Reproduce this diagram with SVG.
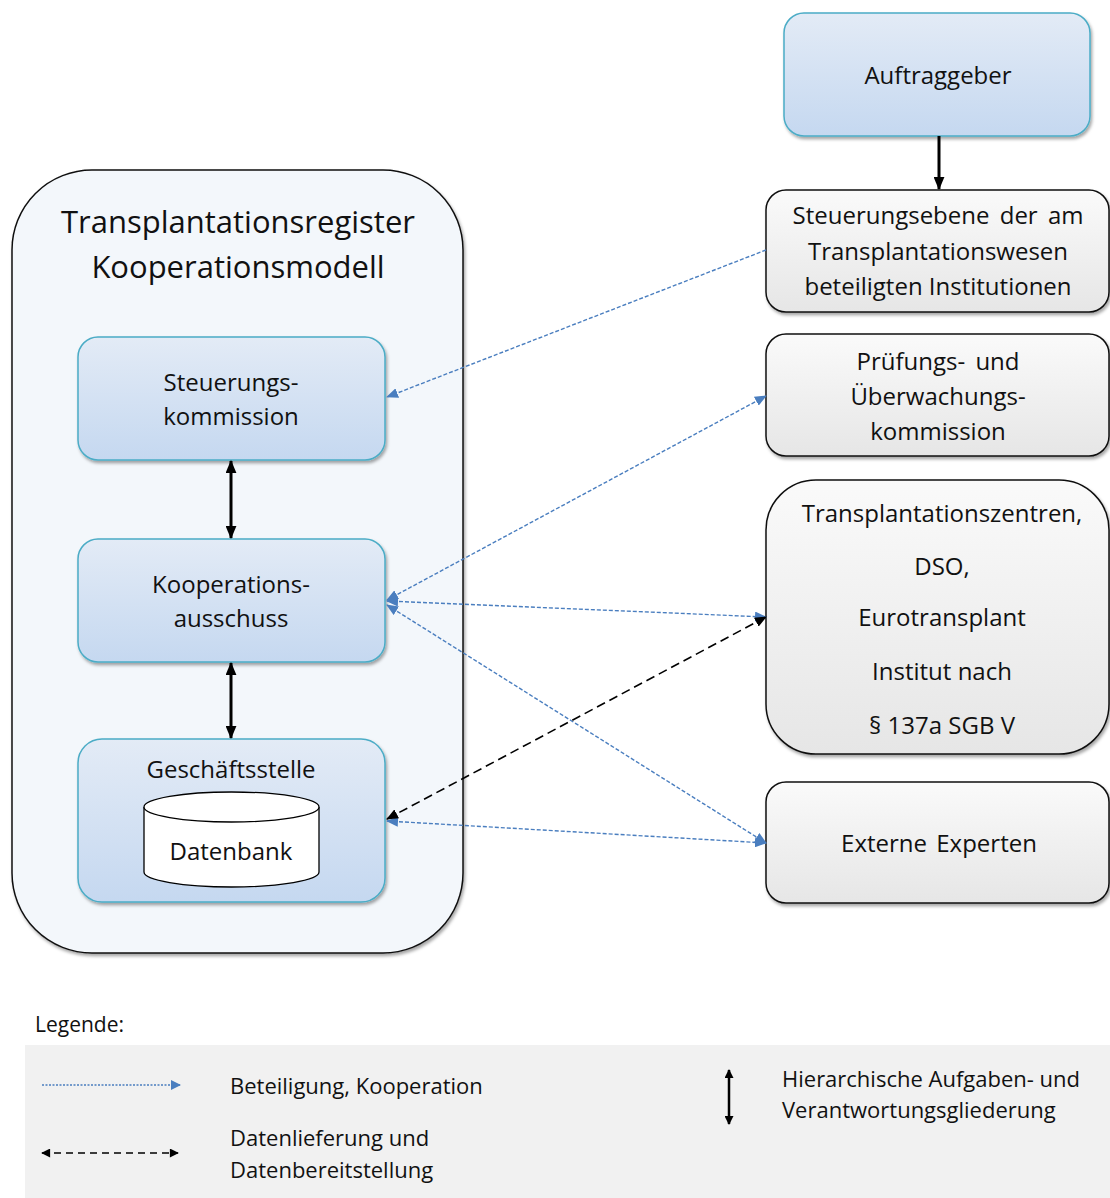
<svg xmlns="http://www.w3.org/2000/svg" width="1110" height="1198" viewBox="0 0 1110 1198">
  <style>
    text { font-family: "Open Sans", "Noto Sans", "DejaVu Sans", sans-serif; fill: #111; text-anchor: middle; }
    .t22 { font-size: 24px; }
    .title { font-size: 31px; }
    .leg { font-size: 22px; text-anchor: start; }
    .blue-box { fill: url(#gBlue); stroke: #4bacc6; stroke-width: 1.5; filter: url(#shadow); }
    .grey-box { fill: url(#gGrey); stroke: #111; stroke-width: 1.5; filter: url(#shadow); }
    .coop { fill: none; stroke: #4a7ebf; stroke-width: 1.4; stroke-dasharray: 4 2; }
    .data { fill: none; stroke: #000; stroke-width: 1.6; stroke-dasharray: 9 5; }
    .hier { fill: none; stroke: #000; stroke-width: 3; }
  </style>
  <defs>
    <linearGradient id="gBlue" x1="0" y1="0" x2="0" y2="1">
      <stop offset="0" stop-color="#e3ebf6"/>
      <stop offset="1" stop-color="#c5d8f0"/>
    </linearGradient>
    <linearGradient id="gGrey" x1="0" y1="0" x2="0" y2="1">
      <stop offset="0" stop-color="#fafafa"/>
      <stop offset="1" stop-color="#e6e6e6"/>
    </linearGradient>
    <filter id="shadow" x="-10%" y="-10%" width="125%" height="125%">
      <feDropShadow dx="1.5" dy="2.5" stdDeviation="1.8" flood-color="#000" flood-opacity="0.35"/>
    </filter>
    <marker id="aBlue" viewBox="0 0 12 10" refX="11" refY="5" markerWidth="12" markerHeight="10" markerUnits="userSpaceOnUse" orient="auto-start-reverse">
      <path d="M0,0 L12,5 L0,10 Z" fill="#4a7ebf"/>
    </marker>
    <marker id="aBlack" viewBox="0 0 12 10" refX="11" refY="5" markerWidth="12" markerHeight="10" markerUnits="userSpaceOnUse" orient="auto-start-reverse">
      <path d="M0,0 L12,5 L0,10 Z" fill="#000"/>
    </marker>
    <marker id="aHier" viewBox="0 0 12 10" refX="11" refY="5" markerWidth="13" markerHeight="11" markerUnits="userSpaceOnUse" orient="auto-start-reverse">
      <path d="M0,0 L12,5 L0,10 Z" fill="#000"/>
    </marker>
    <marker id="aSmallBlue" viewBox="0 0 10 10" refX="9" refY="5" markerWidth="10" markerHeight="10" markerUnits="userSpaceOnUse" orient="auto-start-reverse">
      <path d="M0,0 L10,5 L0,10 Z" fill="#4a7ebf"/>
    </marker>
    <marker id="aSmallBlack" viewBox="0 0 10 10" refX="9" refY="5" markerWidth="10" markerHeight="9" markerUnits="userSpaceOnUse" orient="auto-start-reverse">
      <path d="M0,0 L10,5 L0,10 Z" fill="#000"/>
    </marker>
  </defs>

  <rect width="1110" height="1198" fill="#fff"/>

  <!-- Register container -->
  <g id="register">
    <rect x="12" y="170" width="451" height="783" rx="80" ry="80" fill="#f3f7fb" stroke="#111" stroke-width="1.5" filter="url(#shadow)"/>
    <text class="title" x="238" y="233">Transplantationsregister</text>
    <text class="title" x="238" y="278">Kooperationsmodell</text>
  </g>

  <g id="steuerungskommission">
    <rect class="blue-box" x="78" y="337" width="307" height="123" rx="20"/>
    <text class="t22" x="231" y="391">Steuerungs-</text>
    <text class="t22" x="231" y="425">kommission</text>
  </g>

  <g id="kooperationsausschuss">
    <rect class="blue-box" x="78" y="539" width="307" height="123" rx="20"/>
    <text class="t22" x="231" y="593">Kooperations-</text>
    <text class="t22" x="231" y="627">ausschuss</text>
  </g>

  <g id="geschaeftsstelle">
    <rect class="blue-box" x="78" y="739" width="307" height="163" rx="24"/>
    <text class="t22" x="231" y="778">Geschäftsstelle</text>
    <g id="datenbank">
      <path d="M144,807 L144,872 A87.5,15 0 0 0 319,872 L319,807" fill="#fff" stroke="#000" stroke-width="1.3"/>
      <ellipse cx="231.5" cy="807" rx="87.5" ry="15" fill="#fff" stroke="#000" stroke-width="1.3"/>
      <text class="t22" x="231" y="860">Datenbank</text>
    </g>
  </g>

  <g id="auftraggeber">
    <rect class="blue-box" x="784" y="13" width="306" height="123" rx="20"/>
    <text class="t22" x="938" y="84">Auftraggeber</text>
  </g>

  <g id="steuerungsebene">
    <rect class="grey-box" x="766" y="190" width="343" height="122" rx="20"/>
    <text class="t22" x="938" y="224" word-spacing="4">Steuerungsebene der am</text>
    <text class="t22" x="938" y="260">Transplantationswesen</text>
    <text class="t22" x="938" y="295">beteiligten Institutionen</text>
  </g>

  <g id="pruefungskommission">
    <rect class="grey-box" x="766" y="334" width="343" height="122" rx="20"/>
    <text class="t22" x="938" y="370" word-spacing="4">Prüfungs- und</text>
    <text class="t22" x="938" y="405">Überwachungs-</text>
    <text class="t22" x="938" y="440">kommission</text>
  </g>

  <g id="institutionen">
    <rect class="grey-box" x="766" y="480" width="343" height="274" rx="50"/>
    <text class="t22" x="942" y="522">Transplantationszentren,</text>
    <text class="t22" x="942" y="575">DSO,</text>
    <text class="t22" x="942" y="626">Eurotransplant</text>
    <text class="t22" x="942" y="680">Institut nach</text>
    <text class="t22" x="942" y="734">§ 137a SGB V</text>
  </g>

  <g id="externe-experten">
    <rect class="grey-box" x="766" y="782" width="343" height="121" rx="20"/>
    <text class="t22" x="939" y="852" word-spacing="3">Externe Experten</text>
  </g>

  <!-- Connectors -->
  <g id="connectors">
    <line class="hier" x1="939" y1="136" x2="939" y2="189" marker-end="url(#aHier)"/>
    <line class="hier" x1="231" y1="461" x2="231" y2="538" marker-start="url(#aHier)" marker-end="url(#aHier)"/>
    <line class="hier" x1="231" y1="663" x2="231" y2="738" marker-start="url(#aHier)" marker-end="url(#aHier)"/>

    <line class="coop" x1="766" y1="250" x2="387" y2="397" marker-end="url(#aBlue)"/>
    <line class="coop" x1="387" y1="600" x2="766" y2="396" marker-start="url(#aBlue)" marker-end="url(#aBlue)"/>
    <line class="coop" x1="387" y1="601" x2="766" y2="617" marker-start="url(#aBlue)" marker-end="url(#aBlue)"/>
    <line class="coop" x1="387" y1="605" x2="766" y2="843" marker-start="url(#aBlue)" marker-end="url(#aBlue)"/>
    <line class="coop" x1="387" y1="821" x2="766" y2="843" marker-start="url(#aBlue)" marker-end="url(#aBlue)"/>
    <line class="data" x1="387" y1="819" x2="766" y2="617" marker-start="url(#aBlack)" marker-end="url(#aBlack)"/>
  </g>

  <!-- Legend -->
  <g id="legend">
    <text class="leg" x="35" y="1032" style="font-size:21px">Legende:</text>
    <rect x="25" y="1045" width="1085" height="153" fill="#f1f1f1"/>
    <line x1="42" y1="1085" x2="180" y2="1085" stroke="#4a7ebf" stroke-width="1.4" stroke-dasharray="2 1.5" marker-end="url(#aSmallBlue)"/>
    <text class="leg" x="230" y="1094">Beteiligung, Kooperation</text>
    <line x1="42" y1="1153" x2="178" y2="1153" stroke="#000" stroke-width="1.5" stroke-dasharray="7 5" marker-start="url(#aSmallBlack)" marker-end="url(#aSmallBlack)"/>
    <text class="leg" x="230" y="1146">Datenlieferung und</text>
    <text class="leg" x="230" y="1178">Datenbereitstellung</text>
    <line x1="729" y1="1070" x2="729" y2="1124" stroke="#000" stroke-width="2.5" marker-start="url(#aSmallBlack)" marker-end="url(#aSmallBlack)"/>
    <text class="leg" x="782" y="1087">Hierarchische Aufgaben- und</text>
    <text class="leg" x="782" y="1118">Verantwortungsgliederung</text>
  </g>
</svg>
